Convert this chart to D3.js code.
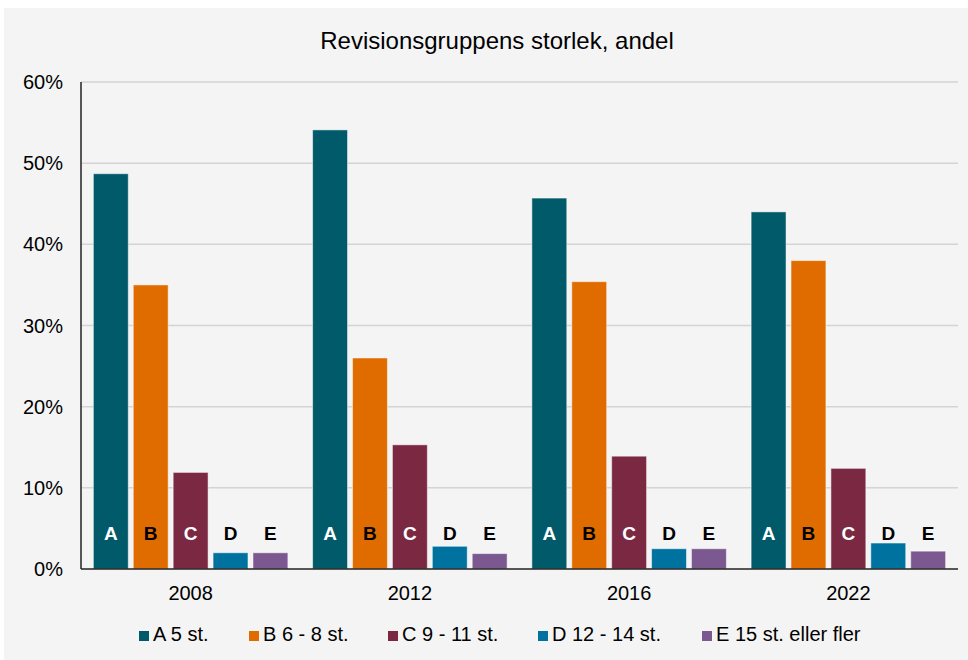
<!DOCTYPE html>
<html lang="sv">
<head>
    <meta charset="UTF-8">
    <title>Revisionsgruppens storlek, andel</title>
    <script src="https://d3js.org/d3.v7.min.js"></script>
    <style>
        body { margin: 0; background: #fff; }
        text { font-family: "Liberation Sans", Arial, sans-serif; fill: #000; }
        .grid line { stroke: #d4d4d4; stroke-width: 1.5px; }
    </style>
</head>
<body>
<svg width="968" height="660"></svg>
<script>
    // data
    const years = ['2008', '2012', '2016', '2022'];
    const seriesKeys = ['A', 'B', 'C', 'D', 'E'];
    const seriesNames = ['A 5 st.', 'B 6 - 8 st.', 'C 9 - 11 st.', 'D 12 - 14 st.', 'E 15 st. eller fler'];
    const valuesA = [48.7, 54.1, 45.7, 44.0];
    const valuesB = [35.0, 26.0, 35.4, 38.0];
    const valuesC = [11.9, 15.3, 13.9, 12.4];
    const valuesD = [2.0, 2.8, 2.5, 3.2];
    const valuesE = [2.0, 1.9, 2.5, 2.2];
    const yTicks = [0, 10, 20, 30, 40, 50, 60];

    const colors = ['#005a69', '#e06c00', '#7b2942', '#0072a0', '#7b5990'];
    const labelColors = ['#fff', '#000', '#fff', '#000', '#000'];
    const allValues = [valuesA, valuesB, valuesC, valuesD, valuesE];

    const svg = d3.select('svg');
    svg.append('rect')
        .attr('x', 4).attr('y', 8)
        .attr('width', 964).attr('height', 652)
        .attr('fill', '#f4f4f4');

    const plotLeft = 81, plotRight = 958, plotTop = 82, plotBottom = 569;

    const x0 = d3.scaleBand().domain(years).range([plotLeft, plotRight]).paddingInner(0).paddingOuter(0);
    const x1 = d3.scaleBand().domain(seriesKeys).range([0, x0.bandwidth()]).paddingInner(0.125).paddingOuter(0.31);
    const y = d3.scaleLinear().domain([0, 60]).range([plotBottom, plotTop]);

    // title
    svg.append('text')
        .attr('x', 497).attr('y', 49)
        .attr('text-anchor', 'middle')
        .style('font-size', '24px')
        .text('Revisionsgruppens storlek, andel');

    // gridlines
    svg.append('g').attr('class', 'grid')
        .selectAll('line')
        .data(yTicks.filter(t => t > 0))
        .join('line')
        .attr('x1', plotLeft).attr('x2', plotRight)
        .attr('y1', d => y(d)).attr('y2', d => y(d));

    // y labels
    svg.append('g')
        .selectAll('text')
        .data(yTicks)
        .join('text')
        .attr('x', 63)
        .attr('y', d => y(d) + 7)
        .attr('text-anchor', 'end')
        .style('font-size', '20px')
        .text(d => d + '%');

    // bars
    const groups = svg.append('g')
        .selectAll('g')
        .data(years)
        .join('g')
        .attr('transform', d => `translate(${x0(d)},0)`);

    groups.each(function (year, yi) {
        const g = d3.select(this);
        seriesKeys.forEach((k, si) => {
            const v = allValues[si][yi];
            g.append('rect')
                .attr('x', x1(k))
                .attr('y', y(v))
                .attr('width', x1.bandwidth())
                .attr('height', y(0) - y(v))
                .attr('fill', colors[si])
                .attr('stroke', 'rgba(255,255,255,0.5)')
                .attr('stroke-width', 1);
            g.append('text')
                .attr('x', x1(k) + x1.bandwidth() / 2)
                .attr('y', 540)
                .attr('text-anchor', 'middle')
                .style('font-size', '19px')
                .style('font-weight', 'bold')
                .style('fill', labelColors[si])
                .text(k);
        });
    });

    // axes lines
    svg.append('line')
        .attr('x1', plotLeft).attr('x2', plotLeft)
        .attr('y1', plotTop).attr('y2', plotBottom)
        .attr('stroke', '#222').attr('stroke-width', 1.5);
    svg.append('line')
        .attr('x1', plotLeft).attr('x2', plotRight)
        .attr('y1', plotBottom).attr('y2', plotBottom)
        .attr('stroke', '#222').attr('stroke-width', 1.5);

    // x labels
    svg.append('g')
        .selectAll('text')
        .data(years)
        .join('text')
        .attr('x', d => x0(d) + x0.bandwidth() / 2)
        .attr('y', 600)
        .attr('text-anchor', 'middle')
        .style('font-size', '20px')
        .text(d => d);

    // legend
    const legendX = [139, 249, 388, 538, 702];
    const legend = svg.append('g')
        .selectAll('g')
        .data(seriesNames)
        .join('g')
        .attr('transform', (d, i) => `translate(${legendX[i]},641)`);
    legend.append('rect')
        .attr('x', 0).attr('y', -10)
        .attr('width', 10).attr('height', 10)
        .attr('fill', (d, i) => colors[i]);
    legend.append('text')
        .attr('x', 14).attr('y', 0)
        .style('font-size', '20px')
        .text(d => d);
</script>
</body>
</html>
